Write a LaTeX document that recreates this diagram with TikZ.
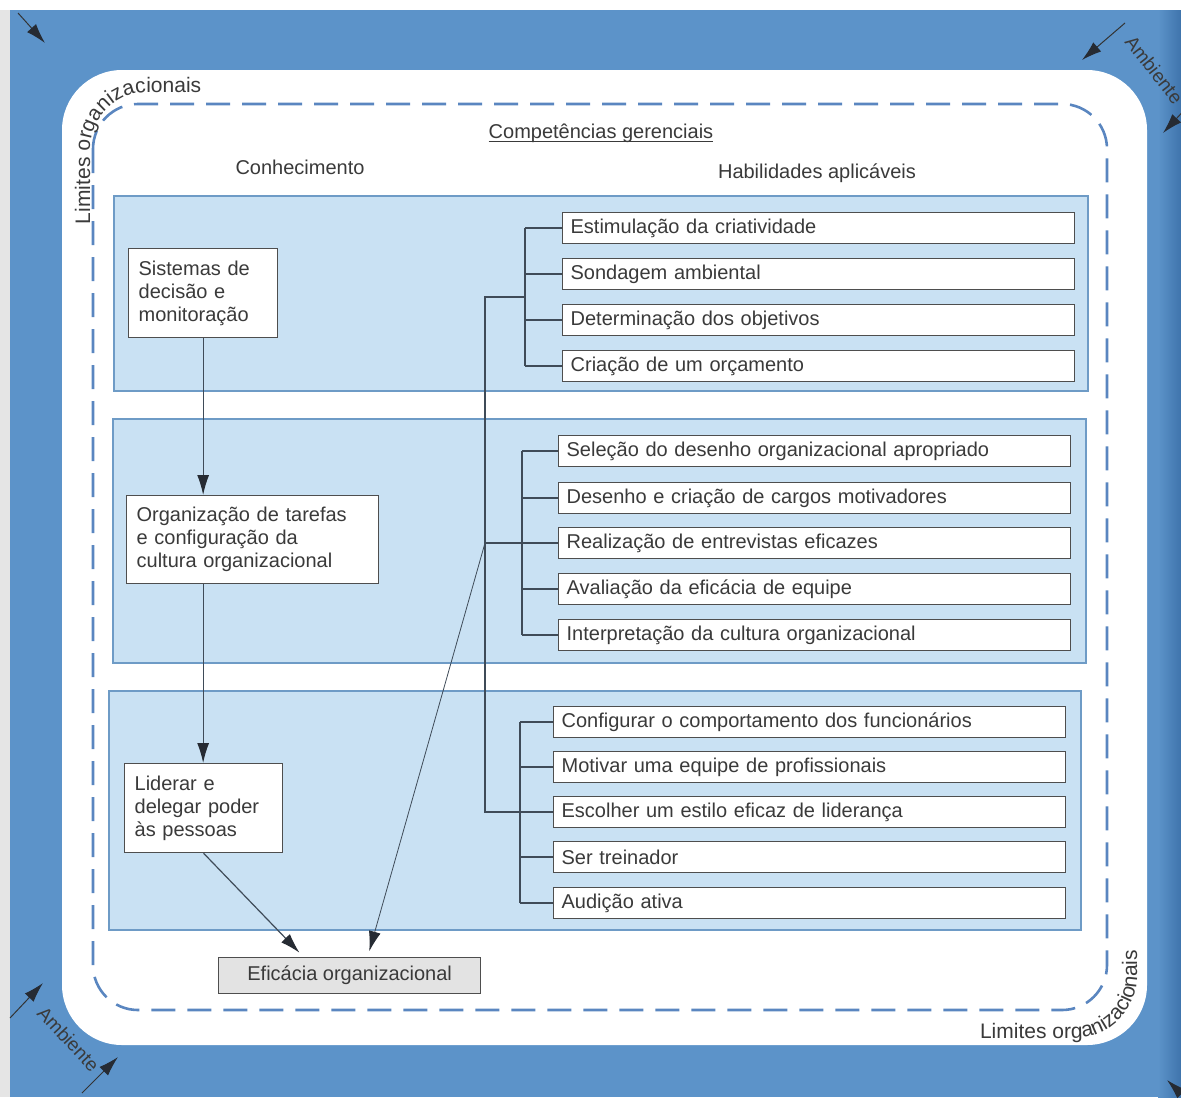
\documentclass[tikz,border=0pt]{standalone}
\usepackage{fontspec}
\setmainfont{Liberation Sans}
\usetikzlibrary{arrows.meta,decorations.text}
\definecolor{envblue}{HTML}{5C93C9}
\definecolor{envdark}{HTML}{3F74AC}
\definecolor{bandfill}{HTML}{C9E1F3}
\definecolor{bandline}{HTML}{6E9BC6}
\definecolor{dashblue}{HTML}{5A86C0}
\definecolor{ink}{HTML}{3A3A3A}
\definecolor{wirec}{HTML}{3F4B58}
\definecolor{tipc}{HTML}{262B33}
\newcommand\mydiafont{\fontsize{20}{23}\selectfont}
\newcommand\mylimfont{\fontsize{21}{21}\selectfont}
\begin{document}
\begin{tikzpicture}[x=1pt,y=-1pt,
  band/.style={draw=bandline, line width=1.5pt, fill=bandfill, inner sep=0pt, anchor=north west},
  skill/.style={draw=ink!90, line width=1.3pt, fill=white, anchor=west, minimum height=31pt,
    text width=496pt, inner xsep=8pt, inner ysep=0pt, align=left, font=\mydiafont, text=ink},
  know/.style={draw=ink!90, line width=1.3pt, fill=white, anchor=north west, inner xsep=10pt,
    inner ysep=4pt, align=left, font=\mydiafont, text=ink},
  wire/.style={draw=wirec, line width=1.2pt},
  arr/.style={draw=wirec, line width=1.2pt, -{Latex[length=20pt,width=12pt,color=tipc]}},
  thinarr/.style={draw=wirec, line width=0.8pt, -{Latex[length=20pt,width=12pt,color=tipc]}},
  envarrow/.style={draw=black!80, line width=1pt, -{Latex[length=20pt,width=12pt,color=tipc]}},
  lbl/.style={font=\mydiafont, text=ink, inner sep=0pt}
]
\useasboundingbox (0,0) rectangle (1181,1106);
\clip (0,0) rectangle (1181,1106);
% page and environment
\fill[white] (0,0) rectangle (1181,1106);
\fill[gray!20] (0,10) rectangle (10,1097);
\fill[envblue] (10,10) rectangle (1181,1097);
\shade[left color=envblue, right color=envdark] (1158,10) rectangle (1181,1097);
% organisational boundary
\fill[white, rounded corners=60pt] (62,70) rectangle (1147,1045);
\draw[dashblue, line width=2.6pt, dash pattern=on 24pt off 12pt, rounded corners=45pt] (93,104) rectangle (1107,1010);
% curved labels
\path[decorate, decoration={text along path, text={|\mylimfont\color{ink}|Limites organizacionais}}]
  (90,224) -- (90,150) .. controls (90,118) and (116,92) .. (148,92) -- (260,92);
\path[decorate, decoration={text along path, text={|\mylimfont\color{ink}|Limites organizacionais}}]
  (980,1038) -- (1075,1038) .. controls (1109,1038) and (1137,1010) .. (1137,976) -- (1137,860);
% environment labels and arrows
\node[font=\fontsize{19}{19}\selectfont, text=ink, rotate=-52, anchor=base west, inner sep=0pt] (amb1) at (1124,42) {Ambiente};
\node[font=\fontsize{19}{19}\selectfont, text=ink, rotate=-47, anchor=base west, inner sep=0pt] (amb2) at (36,1014) {Ambiente};
\coordinate (ea1) at (18,13);   \coordinate (eb1) at (45,43);
\coordinate (ea2) at (1125,23); \coordinate (eb2) at (1082,60);
\coordinate (ea3) at (1190,104); \coordinate (eb3) at (1163,133);
\coordinate (ea4) at (10,1018); \coordinate (eb4) at (43,983);
\coordinate (ea5) at (82,1093); \coordinate (eb5) at (118,1057);
\coordinate (ea6) at (1192,1104); \coordinate (eb6) at (1167,1080);
\foreach \i in {1,...,6} \draw[envarrow] (ea\i) -- (eb\i);
% headings
\node[lbl, anchor=base] (title) at (601,138) {Competências gerenciais};
\draw[ink, line width=1pt] ([yshift=-3pt]title.base west) -- ([yshift=-3pt]title.base east);
\node[lbl] (know) at (300,167) {Conhecimento};
\node[lbl] (hab) at (817,173) {Habilidades aplicáveis};
% bands
\node[band, minimum width=974pt, minimum height=195pt] (band1) at (113,195) {};
\node[band, minimum width=973pt, minimum height=244pt] (band2) at (112,418) {};
\node[band, minimum width=972pt, minimum height=239pt] (band3) at (108,690) {};
% connector junctions
\coordinate (j1) at (525,297);
\coordinate (t1) at (485,297);
\coordinate (k2) at (522,451);
\coordinate (k3) at (520,722);
% knowledge boxes
\node[know, text width=129pt, minimum height=89pt] (A) at (128,248) {Sistemas de\\decisão e\\monitoração};
\node[know, text width=232pt, minimum height=88pt] (B) at (126,495) {Organização de tarefas\\e configuração da\\cultura organizacional};
\node[know, text width=138pt, minimum height=89pt] (C) at (124,763) {Liderar e\\delegar poder\\às pessoas};
\node[draw=ink!90, line width=1.3pt, fill=black!11, minimum width=262pt, minimum height=36pt, anchor=north west, font=\mydiafont, text=ink, inner sep=0pt] (D) at (218,957) {Eficácia organizacional};
% skill boxes
\node[skill] (s11) at (562,228) {Estimulação da criatividade};
\node[skill] (s12) at (562,274) {Sondagem ambiental};
\node[skill] (s13) at (562,320) {Determinação dos objetivos};
\node[skill] (s14) at (562,366) {Criação de um orçamento};
\node[skill] (s21) at (558,451) {Seleção do desenho organizacional apropriado};
\node[skill] (s22) at (558,498) {Desenho e criação de cargos motivadores};
\node[skill] (s23) at (558,543) {Realização de entrevistas eficazes};
\node[skill] (s24) at (558,589) {Avaliação da eficácia de equipe};
\node[skill] (s25) at (558,635) {Interpretação da cultura organizacional};
\node[skill] (s31) at (553,722) {Configurar o comportamento dos funcionários};
\node[skill] (s32) at (553,767) {Motivar uma equipe de profissionais};
\node[skill] (s33) at (553,812) {Escolher um estilo eficaz de liderança};
\node[skill] (s34) at (553,857) {Ser treinador};
\node[skill] (s35) at (553,903) {Audição ativa};
% skill tree wiring
\draw[wire] (s11.west -| j1) -- (s14.west -| j1);
\foreach \i in {11,12,13,14} \draw[wire] (s\i.west -| j1) -- (s\i.west);
\draw[wire] (s21.west -| k2) -- (s25.west -| k2);
\foreach \i in {21,22,23,24,25} \draw[wire] (s\i.west -| k2) -- (s\i.west);
\draw[wire] (s31.west -| k3) -- (s35.west -| k3);
\foreach \i in {31,32,33,34,35} \draw[wire] (s\i.west -| k3) -- (s\i.west);
\draw[wire] (j1) -- (t1) -- (s33.west -| t1) -- (s33.west);
\draw[wire] (s23.west -| t1) -- (s23.west);
% knowledge flow arrows
\draw[arr] (A.south) -- (A.south |- B.north);
\draw[arr] (A.south |- B.south) -- (A.south |- C.north);
\draw[arr, shorten >=6pt] (C.south) -- ([xshift=-46pt]D.north);
\draw[thinarr, shorten >=6pt] (s23.west -| t1) -- ([xshift=18pt]D.north);
\end{tikzpicture}
\end{document}
